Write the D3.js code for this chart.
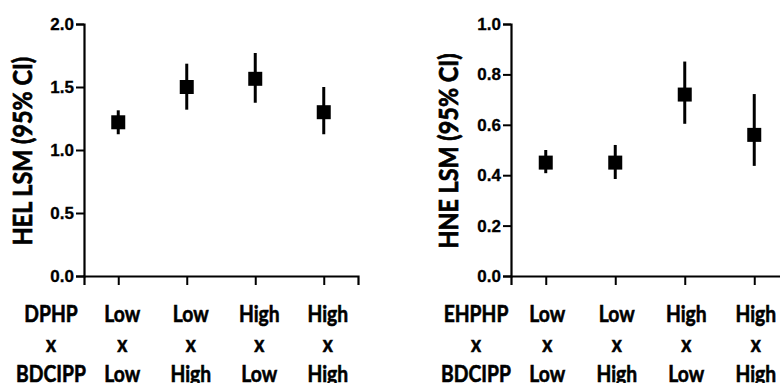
<!DOCTYPE html>
<html>
<head>
<meta charset="utf-8">
<script src="https://cdn.jsdelivr.net/npm/d3@7"></script>
<style>
  html, body { margin: 0; padding: 0; background: #fff; }
  svg { display: block; }
</style>
</head>
<body>
<svg id="chart" width="780" height="383"></svg>
<script>
// ---- data ----
const categories = ["LL", "LH", "HL", "HH"];
const row1Labels = ["Low", "Low", "High", "High"];
const row2Labels = ["x", "x", "x", "x"];
const row3Labels = ["Low", "High", "Low", "High"];

const helMean = [1.22, 1.50, 1.565, 1.30];
const helLow  = [1.125, 1.32, 1.375, 1.125];
const helHigh = [1.315, 1.685, 1.77, 1.50];
const helTicks = [0.0, 0.5, 1.0, 1.5, 2.0];

const hneMean = [0.45, 0.45, 0.72, 0.56];
const hneLow  = [0.408, 0.385, 0.604, 0.437];
const hneHigh = [0.50, 0.52, 0.851, 0.722];
const hneTicks = [0.0, 0.2, 0.4, 0.6, 0.8, 1.0];

const panels = [
  { title: "HEL LSM (95% CI)", header: ["DPHP", "x", "BDCIPP"], mean: helMean, lo: helLow, hi: helHigh,
    ticks: helTicks, yMax: 2.0, x0: 84, x1: 358, titleX: 32, headerX: 51, labelShift: 4 },
  { title: "HNE LSM (95% CI)", header: ["EHPHP", "x", "BDCIPP"], mean: hneMean, lo: hneLow, hi: hneHigh,
    ticks: hneTicks, yMax: 1.0, x0: 511, x1: 789, titleX: 458, headerX: 476, labelShift: 1.5 }
];

const svg = d3.select("#chart");
const yTop = 24, yBottom = 276;
const rowY = [321.5, 352, 382];
const rowLabels = [row1Labels, row2Labels, row3Labels];
const labelFont = "Lato, 'Open Sans', sans-serif";
const squeeze = 0.84;

function tableText(g, x, y, txt) {
  g.append("text")
    .attr("transform", `translate(${x},${y}) scale(${squeeze},1)`)
    .attr("text-anchor", "middle")
    .style("font-family", labelFont).style("font-weight", "bold").style("font-size", "23px")
    .attr("fill", "#000").attr("stroke", "#000").attr("stroke-width", 0.6)
    .text(txt);
}

panels.forEach(p => {
  const g = svg.append("g");
  const x = d3.scalePoint().domain(categories).range([p.x0, p.x1]).padding(0.5);
  const y = d3.scaleLinear().domain([0, p.yMax]).range([yBottom, yTop]);

  // y axis
  const yAxis = g.append("g").attr("transform", `translate(${p.x0},0)`)
    .call(d3.axisLeft(y).tickValues(p.ticks).tickFormat(d3.format(".1f")).tickSizeOuter(0).tickSize(8).tickPadding(2));
  yAxis.select(".domain").attr("stroke", "#000").attr("stroke-width", 2.2);
  yAxis.selectAll(".tick line").attr("stroke", "#000").attr("stroke-width", 2);
  yAxis.selectAll(".tick text").attr("fill", "#000").attr("stroke", "#000").attr("stroke-width", 0.3)
    .style("font-family", "'Liberation Sans', Arial, sans-serif").style("font-weight", "bold").style("font-size", "17px");

  // x axis
  const xAxis = g.append("g").attr("transform", `translate(0,${yBottom})`)
    .call(d3.axisBottom(x).tickSizeOuter(0).tickSize(9).tickFormat(""));
  xAxis.select(".domain").attr("stroke", "#000").attr("stroke-width", 2.2);
  xAxis.selectAll(".tick line").attr("stroke", "#000").attr("stroke-width", 2);

  // error bars
  g.selectAll(".err").data(categories).enter().append("line")
    .attr("x1", d => x(d)).attr("x2", d => x(d))
    .attr("y1", (d, i) => y(p.lo[i])).attr("y2", (d, i) => y(p.hi[i]))
    .attr("stroke", "#000").attr("stroke-width", 3);

  // markers
  const s = 14;
  g.selectAll(".pt").data(categories).enter().append("rect")
    .attr("x", d => x(d) - s / 2).attr("y", (d, i) => y(p.mean[i]) - s / 2)
    .attr("width", s).attr("height", s).attr("fill", "#000");

  // y title
  g.append("text")
    .attr("transform", `translate(${p.titleX},${(yTop + yBottom) / 2 + 1}) rotate(-90) scale(0.9,1)`)
    .attr("text-anchor", "middle")
    .style("font-family", labelFont).style("font-weight", "bold").style("font-size", "26px")
    .attr("fill", "#000").attr("stroke", "#000").attr("stroke-width", 0.7)
    .text(p.title);

  // category label table
  rowLabels.forEach((labels, r) => {
    tableText(g, p.headerX, rowY[r], p.header[r]);
    categories.forEach((c, i) => tableText(g, x(c) + p.labelShift, rowY[r], labels[i]));
  });
});
</script>
</body>
</html>
